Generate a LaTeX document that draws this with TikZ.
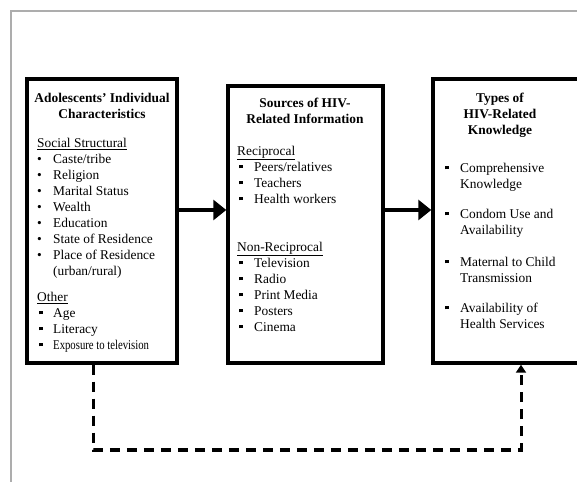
\documentclass[tikz,border=0pt]{standalone}
\usepackage{fontspec}
\setmainfont{Liberation Serif}
\usepackage{graphicx}
\usetikzlibrary{arrows.meta,positioning}

\newcommand{\rbul}{\makebox[16pt][l]{\textbullet}}
\newcommand{\sqbul}[1]{\makebox[#1][l]{\hspace{2pt}\rule[3pt]{3.8pt}{3.8pt}}}

\begin{document}
\begin{tikzpicture}[x=1pt,y=1pt,
  panel/.style={draw, line width=3.5pt, inner sep=0pt},
  boxtitle/.style={align=center, inner sep=0pt, font=\fontsize{13.4}{16}\selectfont\bfseries},
  boxlist/.style={align=left, inner sep=0pt, anchor=north west, font=\fontsize{13.4}{16}\selectfont},
  flow/.style={line width=4pt, -{Triangle[length=13pt,width=20pt]}},
  feedback/.style={line width=3pt, dash pattern=on 10pt off 7pt, -{Triangle[length=8pt,width=10pt]}},
  frame/.style={draw=black!32, line width=2pt}]
\useasboundingbox (0,0) rectangle (577,481);
\clip (0,0) rectangle (577,481);
\draw[frame] (11,-5) -- (11,470) -- (590,470);

% the three boxes
\node[panel, minimum width=150pt, minimum height=284pt] (chars) at (102,260) {};
\node[panel, minimum width=155pt, minimum height=277pt] (sources) at (305.5,256.5) {};
\node[panel, minimum width=170pt, minimum height=284pt] (types) at (518,260) {};

\node[boxtitle, anchor=north] (charsT) at (102,390) {\strut Adolescents' Individual\\Characteristics};
\node[boxtitle, anchor=north] (sourcesT) at (305,385) {\strut Sources of HIV-\\Related Information};
\node[boxtitle, anchor=north] (typesT) at (500,390) {\strut Types of\\HIV-Related\\Knowledge};

\node[boxlist] (charsL) at (37,345) {\strut\underline{Social Structural}\\
  \rbul Caste/tribe\\ \rbul Religion\\ \rbul Marital Status\\ \rbul Wealth\\
  \rbul Education\\ \rbul State of Residence\\ \rbul Place of Residence\\
  \hspace*{16pt}(urban/rural)\\[10pt]
  \underline{Other}\\ \sqbul{16pt}Age\\ \sqbul{16pt}Literacy\\
  \sqbul{16pt}\scalebox{0.8}[1]{Exposure to television}};

\node[boxlist] (sourcesL) at (237,337) {\strut\underline{Reciprocal}\\
  \sqbul{17pt}Peers/relatives\\ \sqbul{17pt}Teachers\\ \sqbul{17pt}Health workers\\[32pt]
  \underline{Non-Reciprocal}\\ \sqbul{17pt}Television\\ \sqbul{17pt}Radio\\
  \sqbul{17pt}Print Media\\ \sqbul{17pt}Posters\\ \sqbul{17pt}Cinema};

\node[boxlist] (typesL) at (443,320) {\strut\sqbul{17pt}Comprehensive\\ \hspace*{17pt}Knowledge\\[14pt]
  \sqbul{17pt}Condom Use and\\ \hspace*{17pt}Availability\\[16pt]
  \sqbul{17pt}Maternal to Child\\ \hspace*{17pt}Transmission\\[14pt]
  \sqbul{17pt}Availability of\\ \hspace*{17pt}Health Services};

% arrows between boxes
\path ([yshift=11pt]chars.east) coordinate (row);
\draw[flow] (row) -- (row -| sources.west);
\draw[flow] (row -| sources.east) -- (row -| types.west);

% dashed link underneath
\coordinate (fbL) at (93,31);
\coordinate (fbR) at (521,31);
\draw[feedback] (chars.south -| fbL) -- (fbL) -- (fbR) -- (types.south -| fbR);
\end{tikzpicture}
\end{document}
